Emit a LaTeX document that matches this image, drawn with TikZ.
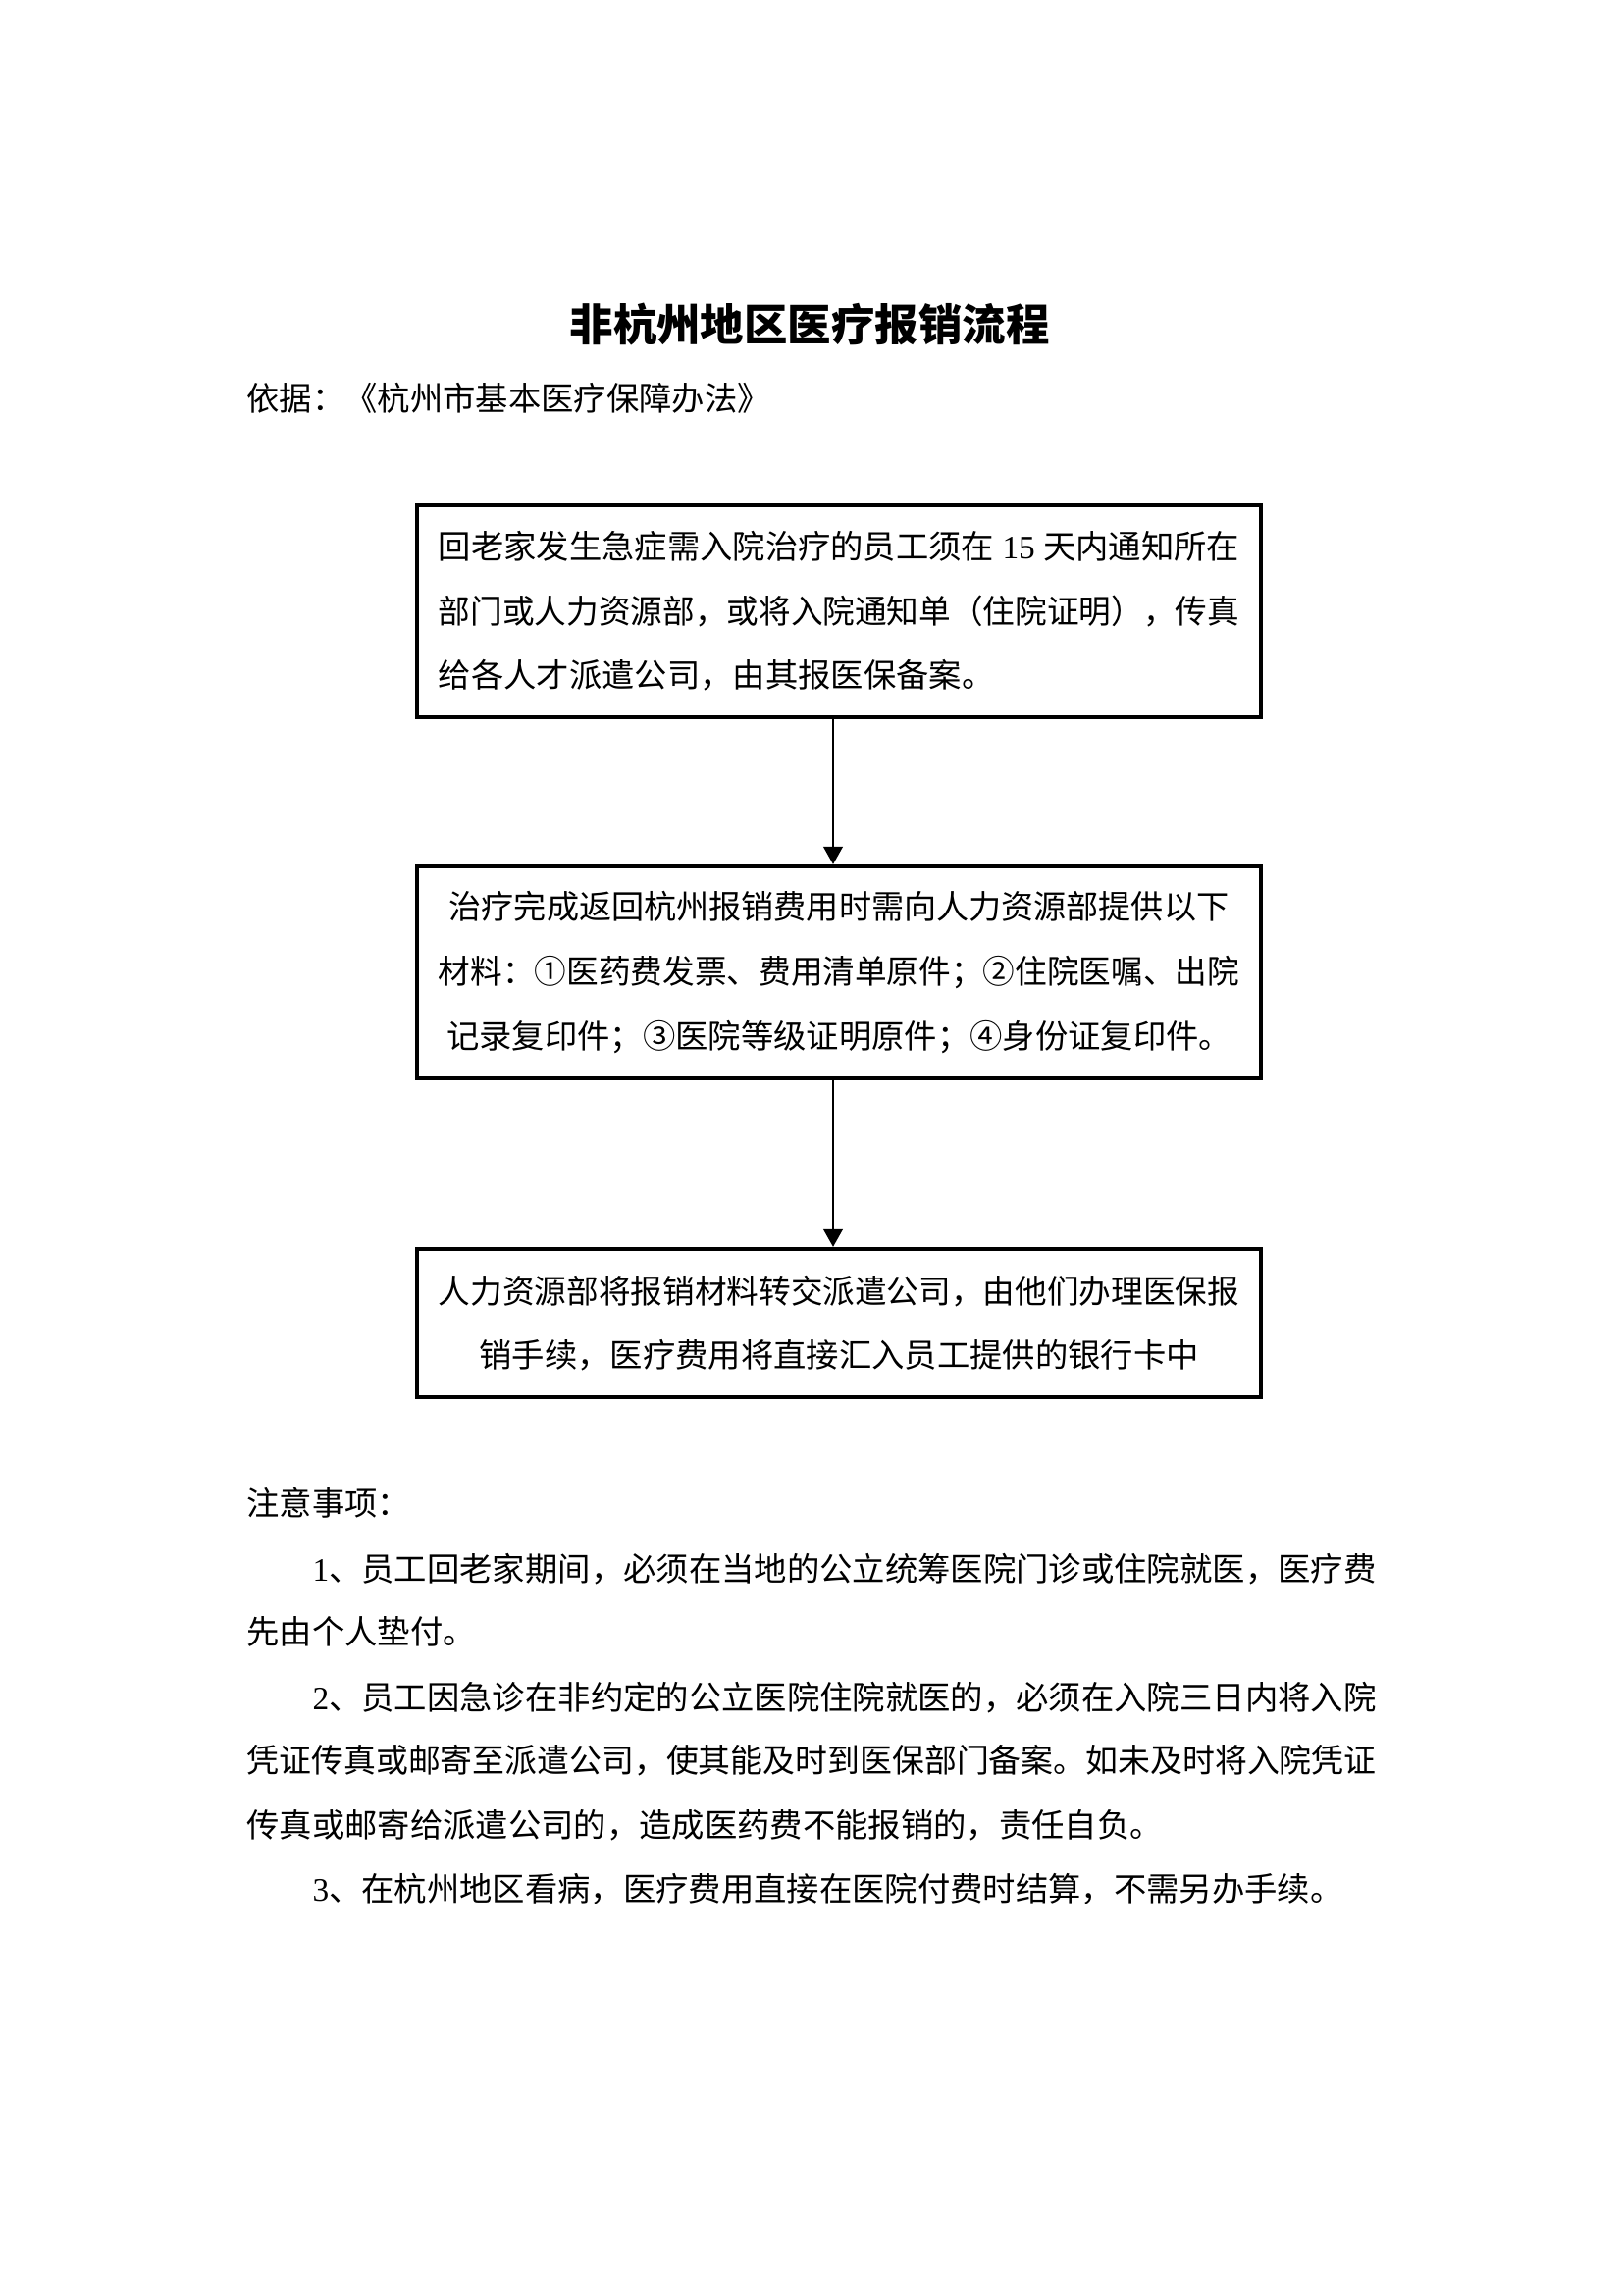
\documentclass[tikz,border=0pt]{standalone}
\usepackage{fontspec}
\setmainfont{Liberation Serif}
\newfontfamily\cjk{Noto Sans CJK SC}
\usetikzlibrary{arrows.meta,calc}
\newcommand\fitline[2]{\resizebox{#1}{\height}{#2}}
\tikzset{
  txt/.style={anchor=west, inner sep=0pt, font=\cjk\fontsize{12pt}{14pt}\selectfont, text height=10.56pt, text depth=1.44pt},
  flowbox/.style={draw, line width=1.5pt, inner sep=0pt, minimum width=309.6pt, font=\cjk\fontsize{12pt}{23.6pt}\selectfont},
  flowarrow/.style={line width=1pt, -{Triangle[length=6.5pt,width=7pt]}}
}
\begin{document}
\begin{tikzpicture}[x=0.36pt,y=-0.36pt]
\path[fill=white,use as bounding box] (0,0) rectangle (1654,2339);

\node[anchor=center, inner sep=0pt, font=\cjk\bfseries\fontsize{16pt}{18pt}\selectfont, text height=14.08pt, text depth=1.92pt] (title) at (825,331) {非杭州地区医疗报销流程};
\node[txt] (basis) at (251,406) {依据：《杭州市基本医疗保障办法》};

\node[flowbox, minimum height=77.76pt, align=left] (b1) at (855,623)
{\fitline{293.8pt}{回老家发生急症需入院治疗的员工须在{\rmfamily\ 15\ }天内通知所在}\\
 \fitline{293.8pt}{部门或人力资源部，或将入院通知单（住院证明），传真}\\
 给各人才派遣公司，由其报医保备案。};

\node[flowbox, minimum height=77.76pt, align=center] (b2) at (855,991)
{\fitline{286pt}{治疗完成返回杭州报销费用时需向人力资源部提供以下}\\
 \fitline{293.8pt}{材料：①医药费发票、费用清单原件；②住院医嘱、出院}\\
 记录复印件；③医院等级证明原件；④身份证复印件。};

\node[flowbox, minimum height=54.36pt, align=center] (b3) at (855,1348.5)
{\fitline{293.8pt}{人力资源部将报销材料转交派遣公司，由他们办理医保报}\\
 销手续，医疗费用将直接汇入员工提供的银行卡中};

\draw[flowarrow] ($(b1.south)+(-6,0)$) -- ($(b2.north)+(-6,0)$);
\draw[flowarrow] ($(b2.south)+(-6,0)$) -- ($(b3.north)+(-6,0)$);

\node[txt] (notes) at (251,1532) {注意事项：};
\node[txt] (n1a) at (318,1599) {\fitline{390.2pt}{{\rmfamily 1}、员工回老家期间，必须在当地的公立统筹医院门诊或住院就医，医疗费}};
\node[txt] (n1b) at (251,1663) {先由个人垫付。};
\node[txt] (n2a) at (318,1730) {\fitline{390.2pt}{{\rmfamily 2}、员工因急诊在非约定的公立医院住院就医的，必须在入院三日内将入院}};
\node[txt] (n2b) at (251,1794) {\fitline{414.4pt}{凭证传真或邮寄至派遣公司，使其能及时到医保部门备案。如未及时将入院凭证}};
\node[txt] (n2c) at (251,1860) {传真或邮寄给派遣公司的，造成医药费不能报销的，责任自负。};
\node[txt] (n3a) at (318,1925) {{\rmfamily 3}、在杭州地区看病，医疗费用直接在医院付费时结算，不需另办手续。};
\end{tikzpicture}
\end{document}
